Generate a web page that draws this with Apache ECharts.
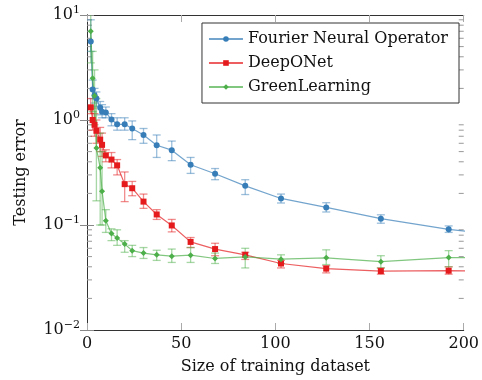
<!DOCTYPE html>
<html>
<head>
<meta charset="utf-8">
<script src="https://cdn.jsdelivr.net/npm/echarts@6/dist/echarts.min.js"></script>
<style>html,body{margin:0;padding:0;background:#fff}#c{width:482px;height:380px}</style>
</head>
<body>
<div id="c"></div>
<script>
// ---- data ----
const xValues = [2,3,4,5,7,8,10,13,16,20,24,30,37,45,55,68,84,103,127,156,192,236];
const fno     = [5.6,1.95,1.72,1.6,1.31,1.2,1.18,1.01,0.91,0.91,0.83,0.72,0.575,0.516,0.375,0.308,0.236,0.179,0.147,0.115,0.091,0.074];
const fnoLow  = [4.5,1.6,1.45,1.35,1.12,1.05,1.05,0.88,0.8,0.8,0.65,0.6,0.44,0.41,0.31,0.27,0.195,0.162,0.133,0.104,0.085,0.069];
const fnoHigh = [9,2.4,2.0,1.85,1.5,1.4,1.33,1.15,1.05,1.05,0.98,0.83,0.72,0.63,0.44,0.345,0.27,0.197,0.163,0.125,0.098,0.08];
const don     = [1.32,1.0,0.9,0.79,0.65,0.58,0.46,0.42,0.37,0.245,0.224,0.167,0.126,0.099,0.069,0.059,0.052,0.043,0.0384,0.0364,0.0367,0.0362];
const donLow  = [1.15,0.8,0.7,0.6,0.5,0.45,0.4,0.35,0.3,0.167,0.19,0.144,0.113,0.086,0.061,0.051,0.047,0.039,0.035,0.034,0.034,0.033];
const donHigh = [1.6,1.3,1.15,1.0,0.85,0.75,0.52,0.49,0.42,0.32,0.26,0.197,0.14,0.113,0.076,0.067,0.055,0.046,0.041,0.039,0.040,0.039];
const gl      = [7,2.5,1.7,0.54,0.35,0.21,0.11,0.083,0.075,0.066,0.057,0.054,0.052,0.0505,0.0516,0.048,0.0497,0.0473,0.0487,0.0447,0.049,0.049];
const glLow   = [3.5,1.2,0.9,0.17,0.1,0.1,0.085,0.071,0.064,0.055,0.05,0.048,0.046,0.044,0.044,0.043,0.039,0.043,0.042,0.039,0.040,0.041];
const glHigh  = [12,4.5,3,1.6,0.75,0.5,0.14,0.092,0.09,0.071,0.064,0.061,0.0575,0.059,0.061,0.054,0.06,0.052,0.058,0.051,0.057,0.057];
const seriesNames = ['Fourier Neural Operator','DeepONet','GreenLearning'];
const xTicks = [0,50,100,150,200];
const decades = [0.01,0.1,1];

// ---- build ----
const FONT = 'DejaVu Serif';
const colors = {
  blue: {mark:'#377eb8', line:'rgba(55,126,184,0.7)', err:'rgba(55,126,184,0.5)'},
  red:  {mark:'#e41a1c', line:'rgba(228,26,28,0.7)', err:'rgba(228,26,28,0.5)'},
  green:{mark:'#4daf4a', line:'rgba(77,175,74,0.7)', err:'rgba(77,175,74,0.5)'}
};
const pts = (ys) => xValues.map((x,i)=>[x,ys[i]]);
const errs = (lo,hi) => xValues.map((x,i)=>[x,lo[i],hi[i]]);
const minorVals = [];
decades.forEach(d=>{for(let k=2;k<=9;k++) minorVals.push(d*k);});

function errRender(color){
  return function(params, api){
    const cs = params.coordSys;
    const x = api.value(0);
    const pLo = api.coord([x, api.value(1)]);
    const pHi = api.coord([x, api.value(2)]);
    if (pLo[0] < cs.x - 0.5 || pLo[0] > cs.x + cs.width + 0.5) return;
    const top = cs.y, bot = cs.y + cs.height;
    const yHi = Math.max(top, pHi[1]), yLo = Math.min(bot, pLo[1]);
    const w = 4;
    const st = {stroke: color, lineWidth: 1.3};
    const ch = [{type:'line', shape:{x1:pLo[0],y1:yLo,x2:pLo[0],y2:yHi}, style:st}];
    if (pHi[1] >= top) ch.push({type:'line', shape:{x1:pHi[0]-w,y1:pHi[1],x2:pHi[0]+w,y2:pHi[1]}, style:st});
    if (pLo[1] <= bot) ch.push({type:'line', shape:{x1:pLo[0]-w,y1:pLo[1],x2:pLo[0]+w,y2:pLo[1]}, style:st});
    return {type:'group', children: ch};
  };
}
function minorRender(params, api){
  const cs = params.coordSys;
  const p = api.coord([0, api.value(1)]);
  const st = {stroke:'#999', lineWidth:1};
  const L = 5;
  return {type:'group', children:[
    {type:'line', shape:{x1:cs.x, y1:p[1], x2:cs.x+L, y2:p[1]}, style:st},
    {type:'line', shape:{x1:cs.x+cs.width-L, y1:p[1], x2:cs.x+cs.width, y2:p[1]}, style:st}
  ]};
}
function supLabel(v){
  const e = Math.round(Math.log10(v));
  const s = e < 0 ? '\u2212' + Math.abs(e) : String(e);
  return '{b|10}{s|' + s + '}';
}

const chart = echarts.init(document.getElementById('c'), null, {renderer:'canvas'});
const lineSeries = (name, ys, c, symbol, size) => ({
  name, type:'line', data: pts(ys), symbol, symbolSize:size, clip:true,
  itemStyle:{color:c.mark}, lineStyle:{color:c.line, width:1.2},
  emphasis:{disabled:true}, z:3
});
const errSeries = (lo, hi, c) => ({
  type:'custom', data: errs(lo,hi), renderItem: errRender(c.err), clip:true,
  encode:{x:0, y:[1,2]}, silent:true, z:2
});

chart.setOption({
  animation:false,
  textStyle:{fontFamily:FONT},
  grid:{left:87, right:15, top:15, bottom:48, containLabel:false},
  legend:{
    data: seriesNames, orient:'vertical', right:23, top:23,
    backgroundColor:'#fff', borderColor:'#333', borderWidth:1, borderRadius:0,
    padding:[6,11,6,6], itemWidth:34, itemHeight:7, itemGap:4,
    textStyle:{fontFamily:FONT, fontSize:16, color:'#111', lineHeight:20}
  },
  xAxis:[{
    type:'value', min:0, max:200, interval:50, position:'bottom',
    name:'Size of training dataset', nameLocation:'middle', nameGap:29,
    nameTextStyle:{fontFamily:FONT, fontSize:16, color:'#111'},
    axisLine:{show:true, lineStyle:{color:'#333', width:1}},
    axisTick:{show:true, inside:true, length:7, lineStyle:{color:'#aaa'}},
    axisLabel:{fontFamily:FONT, fontSize:16, color:'#111', margin:6, formatter:(v)=>xTicks.indexOf(v)>=0?String(v):''},
    splitLine:{show:false}
  },{
    type:'value', min:0, max:200, interval:50, position:'top',
    axisLine:{show:true, lineStyle:{color:'#333', width:1}},
    axisTick:{show:true, inside:true, length:7, lineStyle:{color:'#aaa'}},
    axisLabel:{show:false}, splitLine:{show:false}
  }],
  yAxis:[{
    type:'log', logBase:10, min:0.01, max:10, position:'left',
    name:'Testing error', nameLocation:'middle', nameGap:58,
    nameTextStyle:{fontFamily:FONT, fontSize:16, color:'#111'},
    axisLine:{show:true, lineStyle:{color:'#333', width:1}},
    axisTick:{show:true, inside:true, length:7, lineStyle:{color:'#888'}},
    axisLabel:{margin:7, formatter: supLabel,
      rich:{b:{fontFamily:FONT, fontSize:16, color:'#111'}, s:{fontFamily:FONT, fontSize:11, color:'#111', padding:[0,0,9,0]}}},
    splitLine:{show:false}
  },{
    type:'log', logBase:10, min:0.01, max:10, position:'right',
    axisLine:{show:true, lineStyle:{color:'#333', width:1}},
    axisTick:{show:true, inside:true, length:7, lineStyle:{color:'#888'}},
    axisLabel:{show:false}, splitLine:{show:false}
  }],
  series:[
    {type:'custom', data: minorVals.map(v=>[0,v]), renderItem: minorRender, encode:{x:0,y:1}, silent:true, z:1},
    errSeries(fnoLow, fnoHigh, colors.blue),
    errSeries(donLow, donHigh, colors.red),
    errSeries(glLow, glHigh, colors.green),
    lineSeries(seriesNames[0], fno, colors.blue, 'circle', 6),
    lineSeries(seriesNames[1], don, colors.red, 'rect', 6),
    lineSeries(seriesNames[2], gl, colors.green, 'diamond', 6)
  ]
});
</script>
</body>
</html>
